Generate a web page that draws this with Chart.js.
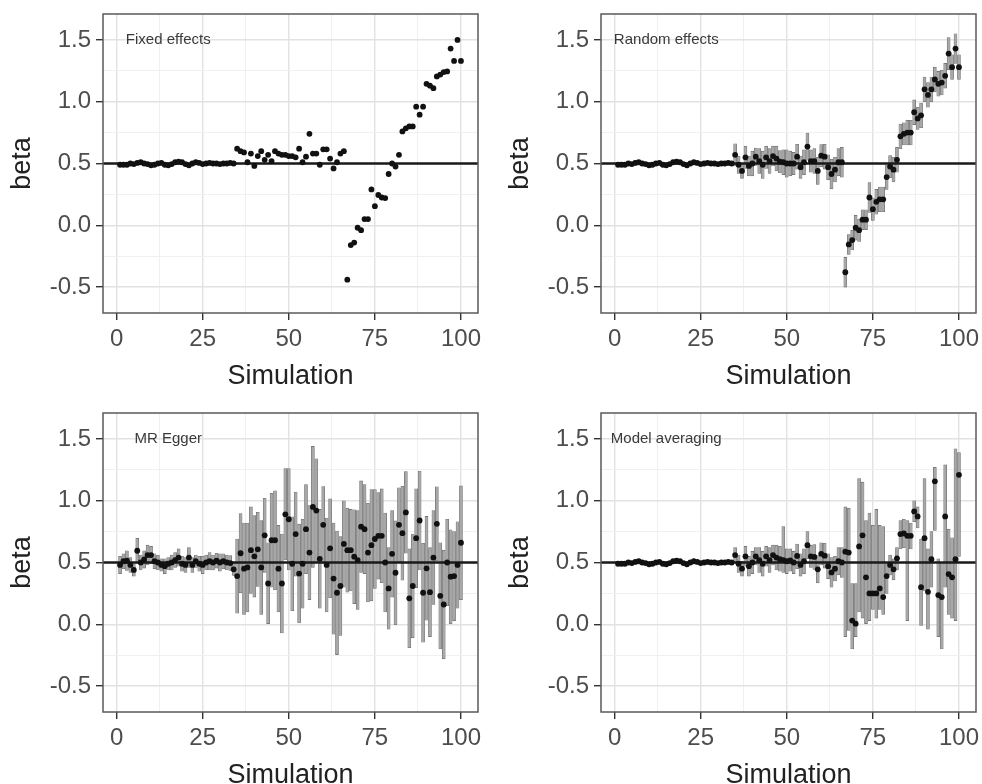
<!DOCTYPE html>
<html>
<head>
<meta charset="utf-8">
<title>Simulation estimates</title>
<script src="https://cdn.jsdelivr.net/npm/chart.js@4.4.0/dist/chart.umd.min.js"></script>
<style>
    html, body { margin: 0; padding: 0; background: #fff; overflow: hidden; }
    #wrap { position: relative; width: 982px; height: 784px; overflow: hidden; }
    .cell { position: absolute; height: 399px; }
    .left { left: 0; width: 498px; }
    .right { left: 498px; width: 484px; }
</style>
</head>
<body>
<div id="wrap">
    <div class="cell left" style="top:0"><canvas id="fixedChart"></canvas></div>
    <div class="cell right" style="top:0"><canvas id="randomChart"></canvas></div>
    <div class="cell left" style="top:399px"><canvas id="eggerChart"></canvas></div>
    <div class="cell right" style="top:399px"><canvas id="averageChart"></canvas></div>
</div>
<script>
const simulation = Array.from({ length: 100 }, (_, i) => i + 1);
const xMajor = [0, 25, 50, 75, 100];
const xMinor = [12.5, 37.5, 62.5, 87.5];
const yMajor = [-0.5, 0, 0.5, 1, 1.5];
const yMinor = [-0.25, 0.25, 0.75, 1.25];
const trueBeta = 0.5;
const labelAt = { x: 15, y: 1.5 };

// Fixed effects (no interval shown)
const fixedBeta = [
    0.49, 0.49, 0.49, 0.50, 0.495, 0.505, 0.51, 0.50, 0.495, 0.485,
    0.49, 0.50, 0.505, 0.49, 0.485, 0.495, 0.51, 0.515, 0.51, 0.495,
    0.485, 0.50, 0.51, 0.505, 0.495, 0.50, 0.505, 0.50, 0.50, 0.495,
    0.50, 0.50, 0.505, 0.50, 0.62, 0.60, 0.59, 0.51, 0.58, 0.48,
    0.56, 0.60, 0.53, 0.57, 0.52, 0.60, 0.58, 0.57, 0.57, 0.56,
    0.56, 0.55, 0.62, 0.51, 0.555, 0.74, 0.58, 0.58, 0.49, 0.615,
    0.615, 0.54, 0.46, 0.51, 0.58, 0.60, -0.44, -0.16, -0.14, -0.02,
    -0.04, 0.05, 0.05, 0.29, 0.155, 0.245, 0.225, 0.22, 0.415, 0.50,
    0.475, 0.57, 0.76, 0.785, 0.80, 0.80, 0.96, 0.895, 0.96, 1.145,
    1.13, 1.11, 1.205, 1.22, 1.24, 1.245, 1.43, 1.33, 1.50, 1.33
];

// Random effects
const randomBeta = [
    0.49, 0.49, 0.49, 0.50, 0.495, 0.505, 0.51, 0.50, 0.495, 0.485,
    0.49, 0.50, 0.505, 0.49, 0.485, 0.495, 0.51, 0.515, 0.51, 0.495,
    0.485, 0.50, 0.51, 0.505, 0.495, 0.50, 0.505, 0.50, 0.50, 0.495,
    0.50, 0.50, 0.505, 0.50, 0.57, 0.49, 0.44, 0.55, 0.48, 0.50,
    0.555, 0.52, 0.49, 0.55, 0.52, 0.56, 0.54, 0.515, 0.51, 0.50,
    0.50, 0.50, 0.555, 0.47, 0.51, 0.637, 0.52, 0.52, 0.44, 0.563,
    0.555, 0.47, 0.415, 0.45, 0.51, 0.51, -0.38, -0.155, -0.12, -0.02,
    -0.04, 0.045, 0.045, 0.225, 0.13, 0.19, 0.21, 0.21, 0.39, 0.475,
    0.45, 0.53, 0.72, 0.74, 0.75, 0.75, 0.915, 0.865, 0.89, 1.10,
    1.055, 1.10, 1.18, 1.145, 1.155, 1.21, 1.39, 1.28, 1.43, 1.28
];
const randomHalf = [
    0.015, 0.015, 0.012, 0.015, 0.015, 0.018, 0.015, 0.015, 0.012, 0.015,
    0.015, 0.015, 0.015, 0.012, 0.015, 0.015, 0.018, 0.015, 0.015, 0.015,
    0.015, 0.015, 0.015, 0.012, 0.015, 0.015, 0.015, 0.015, 0.012, 0.015,
    0.015, 0.015, 0.015, 0.015, 0.09, 0.07, 0.06, 0.09, 0.08, 0.10,
    0.07, 0.10, 0.11, 0.09, 0.10, 0.08, 0.10, 0.09, 0.10, 0.11,
    0.10, 0.09, 0.10, 0.09, 0.10, 0.11, 0.09, 0.10, 0.11, 0.09,
    0.10, 0.10, 0.12, 0.10, 0.11, 0.12, 0.12, 0.08, 0.08, 0.10,
    0.09, 0.08, 0.08, 0.12, 0.09, 0.10, 0.10, 0.10, 0.10, 0.09,
    0.10, 0.10, 0.10, 0.09, 0.10, 0.10, 0.10, 0.09, 0.10, 0.10,
    0.10, 0.10, 0.10, 0.10, 0.10, 0.10, 0.13, 0.10, 0.12, 0.10
];

// MR Egger
const eggerBeta = [
    0.48, 0.51, 0.515, 0.48, 0.44, 0.595, 0.50, 0.525, 0.56, 0.56,
    0.51, 0.50, 0.48, 0.47, 0.49, 0.50, 0.52, 0.54, 0.49, 0.48,
    0.54, 0.48, 0.51, 0.49, 0.48, 0.50, 0.51, 0.50, 0.515, 0.50,
    0.51, 0.50, 0.495, 0.445, 0.39, 0.575, 0.45, 0.46, 0.60, 0.55,
    0.607, 0.46, 0.72, 0.33, 0.68, 0.68, 0.45, 0.33, 0.89, 0.85,
    0.49, 0.73, 0.41, 0.49, 0.77, 0.58, 0.95, 0.92, 0.53, 0.805,
    0.48, 0.615, 0.37, 0.255, 0.31, 0.65, 0.60, 0.60, 0.547, 0.52,
    0.79, 0.77, 0.58, 0.64, 0.69, 0.716, 0.716, 0.50, 0.29, 0.57,
    0.417, 0.805, 0.737, 0.905, 0.21, 0.31, 0.697, 0.84, 0.255, 0.453,
    0.26, 0.54, 0.813, 0.23, 0.16, 0.50, 0.385, 0.39, 0.48, 0.66
];
const eggerHalf = [
    0.07, 0.06, 0.08, 0.06, 0.05, 0.10, 0.06, 0.07, 0.08, 0.07,
    0.06, 0.06, 0.05, 0.06, 0.05, 0.06, 0.06, 0.07, 0.06, 0.06,
    0.08, 0.06, 0.05, 0.06, 0.07, 0.06, 0.07, 0.06, 0.06, 0.07,
    0.06, 0.06, 0.06, 0.05, 0.30, 0.32, 0.37, 0.36, 0.35, 0.33,
    0.30, 0.38, 0.30, 0.33, 0.38, 0.40, 0.35, 0.40, 0.37, 0.41,
    0.38, 0.34, 0.40, 0.36, 0.36, 0.38, 0.49, 0.42, 0.40, 0.31,
    0.38, 0.40, 0.45, 0.50, 0.40, 0.35, 0.34, 0.33, 0.38, 0.40,
    0.37, 0.36, 0.40, 0.45, 0.40, 0.35, 0.38, 0.40, 0.33, 0.35,
    0.42, 0.30, 0.38, 0.33, 0.40, 0.42, 0.40, 0.40, 0.40, 0.42,
    0.36, 0.38, 0.30, 0.43, 0.44, 0.35, 0.38, 0.36, 0.35, 0.46
];

// Model averaging (intervals are not symmetric)
const avgBeta = [
    0.49, 0.49, 0.49, 0.50, 0.495, 0.505, 0.51, 0.50, 0.495, 0.485,
    0.49, 0.50, 0.505, 0.49, 0.485, 0.495, 0.51, 0.515, 0.51, 0.495,
    0.485, 0.50, 0.51, 0.505, 0.495, 0.50, 0.505, 0.50, 0.50, 0.495,
    0.50, 0.50, 0.505, 0.50, 0.56, 0.49, 0.45, 0.55, 0.47, 0.50,
    0.55, 0.52, 0.49, 0.55, 0.52, 0.56, 0.54, 0.527, 0.52, 0.51,
    0.516, 0.50, 0.553, 0.48, 0.51, 0.64, 0.55, 0.545, 0.445, 0.57,
    0.555, 0.47, 0.42, 0.45, 0.51, 0.50, 0.588, 0.58, 0.03, 0.005,
    0.63, 0.72, 0.38, 0.25, 0.25, 0.25, 0.29, 0.22, 0.39, 0.48,
    0.445, 0.534, 0.73, 0.735, 0.716, 0.716, 0.913, 0.873, 0.30, 0.697,
    0.263, 0.527, 1.157, 0.236, 0.22, 0.873, 0.406, 0.38, 0.527, 1.21
];
const avgLow = [
    0.475, 0.475, 0.475, 0.485, 0.48, 0.49, 0.495, 0.485, 0.48, 0.47,
    0.475, 0.485, 0.49, 0.475, 0.47, 0.48, 0.495, 0.50, 0.495, 0.48,
    0.47, 0.485, 0.495, 0.49, 0.48, 0.485, 0.49, 0.485, 0.485, 0.48,
    0.485, 0.485, 0.49, 0.485, 0.50, 0.42, 0.39, 0.47, 0.39, 0.41,
    0.48, 0.42, 0.39, 0.47, 0.42, 0.48, 0.44, 0.43, 0.42, 0.41,
    0.43, 0.41, 0.45, 0.39, 0.41, 0.53, 0.46, 0.445, 0.335, 0.48,
    0.455, 0.37, 0.30, 0.35, 0.40, 0.38, -0.10, -0.05, -0.20, -0.10,
    0.10, 0.05, 0.00, 0.03, 0.12, 0.05, 0.12, 0.08, 0.25, 0.40,
    0.36, 0.44, 0.61, 0.62, 0.03, 0.61, 0.83, 0.78, -0.01, 0.27,
    -0.04, 0.30, 0.76, -0.10, -0.20, 0.30, 0.08, 0.05, 0.03, 0.55
];
const avgHigh = [
    0.505, 0.505, 0.505, 0.515, 0.51, 0.52, 0.525, 0.515, 0.51, 0.50,
    0.505, 0.515, 0.52, 0.505, 0.50, 0.51, 0.525, 0.53, 0.525, 0.51,
    0.50, 0.515, 0.525, 0.52, 0.51, 0.515, 0.52, 0.515, 0.515, 0.51,
    0.515, 0.515, 0.52, 0.515, 0.62, 0.56, 0.51, 0.63, 0.55, 0.59,
    0.62, 0.62, 0.59, 0.63, 0.62, 0.64, 0.64, 0.63, 0.79, 0.61,
    0.61, 0.59, 0.65, 0.57, 0.61, 0.75, 0.64, 0.645, 0.555, 0.66,
    0.655, 0.57, 0.54, 0.55, 0.62, 0.62, 0.95, 0.94, 0.33, 0.33,
    1.18, 1.15, 0.84, 0.90, 0.80, 0.93, 0.80, 0.79, 0.50, 0.56,
    0.53, 0.62, 0.84, 0.85, 0.84, 0.82, 1.00, 0.95, 0.69, 1.18,
    0.61, 0.75, 1.27, 0.53, 0.50, 1.29, 0.77, 0.70, 1.42, 1.39
];

const fontFamily = '"Liberation Sans", Arial, Helvetica, sans-serif';

const panelDecor = {
    id: 'panelDecor',
    beforeDatasetDraw(chart, args) {
        // reference line sits above the intervals, below the points
        if (args.index !== 0) return;
        const { ctx, chartArea, scales } = chart;
        const py = scales.y.getPixelForValue(trueBeta);
        ctx.save();
        ctx.strokeStyle = '#1a1a1a';
        ctx.lineWidth = 2.4;
        ctx.beginPath();
        ctx.moveTo(chartArea.left, py);
        ctx.lineTo(chartArea.right, py);
        ctx.stroke();
        ctx.restore();
    },
    afterDraw(chart, args, options) {
        const { ctx, chartArea, scales } = chart;
        ctx.save();
        ctx.strokeStyle = '#5a5a5a';
        ctx.lineWidth = 1.5;
        ctx.strokeRect(chartArea.left, chartArea.top, chartArea.right - chartArea.left, chartArea.bottom - chartArea.top);
        ctx.fillStyle = '#3a3a3a';
        ctx.font = '15px ' + fontFamily;
        ctx.textAlign = 'center';
        ctx.textBaseline = 'middle';
        ctx.fillText(options.label, scales.x.getPixelForValue(labelAt.x), scales.y.getPixelForValue(labelAt.y));
        ctx.restore();
    }
};

function gridStyle(major) {
    return {
        color: c => (c.tick && major.includes(c.tick.value)) ? '#e2e2e2' : '#eeeeee',
        lineWidth: c => (c.tick && major.includes(c.tick.value)) ? 1.4 : 0.9,
        tickColor: c => (c.tick && major.includes(c.tick.value)) ? '#333' : 'rgba(0,0,0,0)',
        tickWidth: 1.4,
        tickLength: 7,
        offset: false
    };
}

function makePanel(canvasId, label, est, low, high, rightPad) {
    const datasets = [{
        type: 'scatter',
        data: simulation.map((s, i) => ({ x: s, y: est[i] })),
        pointRadius: 2.9,
        pointBackgroundColor: '#111',
        pointBorderWidth: 0
    }];
    if (low) {
        datasets.push({
            type: 'bar',
            data: simulation.map((s, i) => ({ x: s, y: [low[i], high[i]] })),
            backgroundColor: '#a8a8a8',
            borderColor: '#6a6a6a',
            borderWidth: 0.6,
            borderSkipped: false,
            barThickness: 3,
            grouped: false
        });
    }

    return new Chart(document.getElementById(canvasId), {
        type: 'scatter',
        data: { datasets: datasets },
        plugins: [panelDecor],
        options: {
            responsive: true,
            maintainAspectRatio: false,
            animation: false,
            events: [],
            layout: { padding: { top: 14, right: rightPad, left: 0, bottom: 0 } },
            plugins: {
                legend: { display: false },
                tooltip: { enabled: false },
                panelDecor: { label: label }
            },
            scales: {
                x: {
                    type: 'linear',
                    min: -3.95,
                    max: 104.95,
                    offset: false,
                    afterBuildTicks: s => {
                        s.ticks = xMajor.concat(xMinor).sort((a, b) => a - b).map(v => ({ value: v }));
                    },
                    afterFit: s => {
                        s.height = 86;
                        s.paddingLeft = 0;
                        s.paddingRight = 0;
                    },
                    grid: gridStyle(xMajor),
                    border: { display: false },
                    ticks: {
                        autoSkip: false,
                        maxRotation: 0,
                        padding: 5,
                        color: '#4d4d4d',
                        font: { family: fontFamily, size: 24 },
                        callback: v => xMajor.includes(v) ? String(v) : ''
                    },
                    title: {
                        display: true,
                        text: 'Simulation',
                        color: '#222',
                        font: { family: fontFamily, size: 27 },
                        padding: { top: 0, bottom: 6 }
                    }
                },
                y: {
                    type: 'linear',
                    min: -0.71,
                    max: 1.71,
                    afterBuildTicks: s => {
                        s.ticks = yMajor.concat(yMinor).sort((a, b) => a - b).map(v => ({ value: v }));
                    },
                    afterFit: s => {
                        s.width = 103;
                        s.paddingTop = 0;
                        s.paddingBottom = 0;
                    },
                    grid: gridStyle(yMajor),
                    border: { display: false },
                    ticks: {
                        padding: 5,
                        color: '#4d4d4d',
                        font: { family: fontFamily, size: 24 },
                        callback: v => yMajor.includes(v) ? v.toFixed(1) : ''
                    },
                    title: {
                        display: true,
                        text: 'beta',
                        color: '#222',
                        font: { family: fontFamily, size: 27 },
                        padding: { top: 6, bottom: 0 }
                    }
                }
            }
        }
    });
}

makePanel('fixedChart', 'Fixed effects', fixedBeta, null, null, 20);
makePanel('randomChart', 'Random effects', randomBeta,
    randomBeta.map((b, i) => b - randomHalf[i]), randomBeta.map((b, i) => b + randomHalf[i]), 6);
makePanel('eggerChart', 'MR Egger', eggerBeta,
    eggerBeta.map((b, i) => b - eggerHalf[i]), eggerBeta.map((b, i) => b + eggerHalf[i]), 20);
makePanel('averageChart', 'Model averaging', avgBeta, avgLow, avgHigh, 6);
</script>
</body>
</html>
